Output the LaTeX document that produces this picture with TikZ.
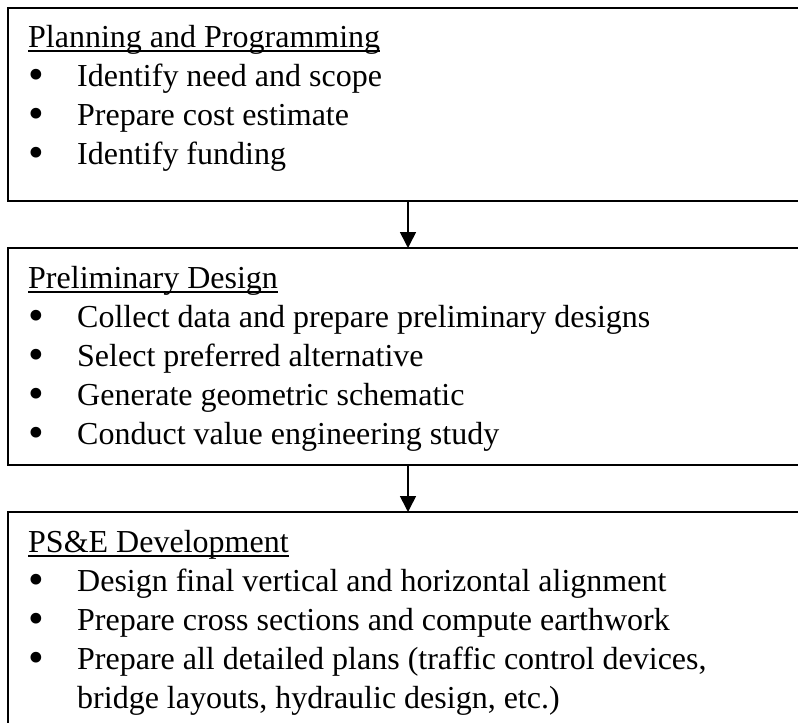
\documentclass[tikz,border=0pt]{standalone}
\usepackage{fontspec}
\usepackage{graphicx}
\setmainfont{Liberation Serif}
\usetikzlibrary{arrows.meta,positioning}
\newlength{\headwd}
\newcommand{\stagehead}[1]{\settowidth{\headwd}{#1}\rlap{\rule[-4pt]{\headwd}{1.6pt}}#1}
\newcommand{\stageitem}[1]{\makebox[49pt][l]{\smash{\raisebox{-3pt}{\scalebox{1.4}{\textbullet}}}}#1}
\begin{document}
\begin{tikzpicture}[x=1pt, y=-1pt,
        stagebox/.style={draw, line width=1.6pt, anchor=north west, minimum width=800pt, inner sep=0pt, outer sep=0pt},
        stagetext/.style={anchor=north west, align=left, inner sep=0pt, font=\fontsize{32}{39}\selectfont},
        flow/.style={-{Triangle[width=16pt,length=16pt]}, line width=1.6pt}]
            \useasboundingbox (0,0) rectangle (798,723);
            \clip (0,0) rectangle (798,723);
            \node [stagebox, minimum height=193pt] (plan) at (8,8) {};
            \node [stagebox, minimum height=217pt] (prelim) at (8,248) {};
            \node [stagebox, minimum height=260pt] (pse) at (8,512) {};
            \node [stagetext] (plantext) at (28,20) {\strut\stagehead{Planning and Programming}\\
                \stageitem{Identify need and scope}\\
                \stageitem{Prepare cost estimate}\\
                \stageitem{Identify funding}};
            \node [stagetext] (prelimtext) at (28,261) {\strut\stagehead{Preliminary Design}\\
                \stageitem{Collect data and prepare preliminary designs}\\
                \stageitem{Select preferred alternative}\\
                \stageitem{Generate geometric schematic}\\
                \stageitem{Conduct value engineering study}};
            \node [stagetext] (psetext) at (28,525) {\strut\stagehead{PS\&E Development}\\
                \stageitem{Design final vertical and horizontal alignment}\\
                \stageitem{Prepare cross sections and compute earthwork}\\
                \stageitem{Prepare all detailed plans (traffic control devices,}\\
                \hspace*{49pt}bridge layouts, hydraulic design, etc.)};
            \draw [flow] (plan) -- (prelim);
            \draw [flow] (prelim) -- (pse);
\end{tikzpicture}
\end{document}
